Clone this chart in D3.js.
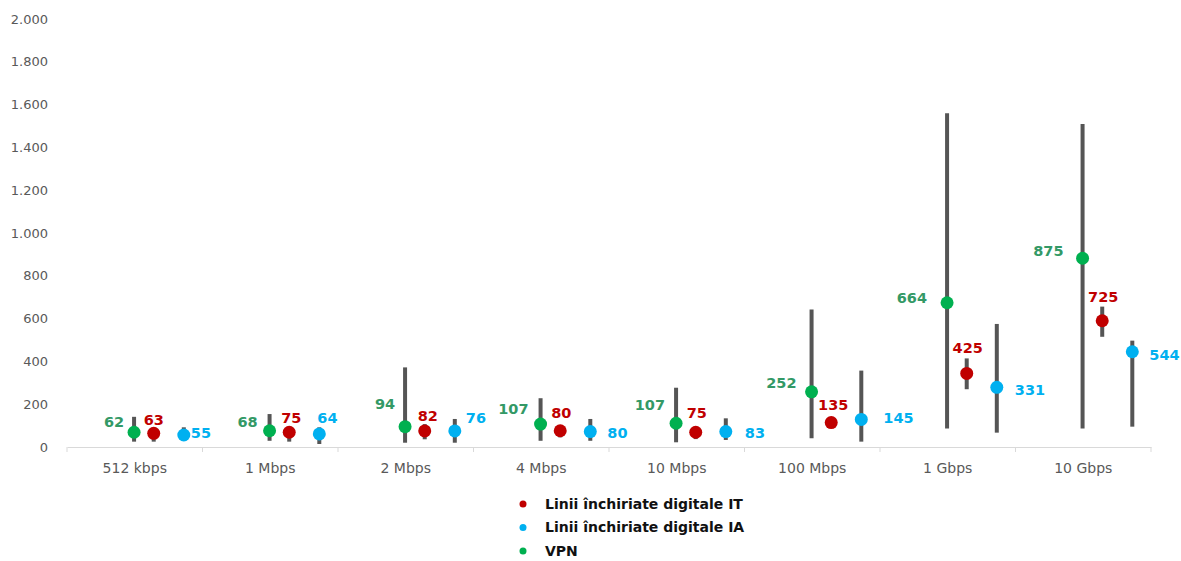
<!DOCTYPE html>
<html>
<head>
<meta charset="utf-8">
<script src="https://cdn.jsdelivr.net/npm/d3@7"></script>
<style>
  body { margin: 0; background: #fff; }
  svg { display: block; }
  .axis text { font-family: "DejaVu Sans", sans-serif; fill: #595959; }
  .val { font-family: "DejaVu Sans", sans-serif; font-weight: bold; font-size: 14.5px; }
  .legend text { font-family: "DejaVu Sans", sans-serif; font-weight: bold; font-size: 14px; fill: #111; }
</style>
</head>
<body>
<svg width="1181" height="561"></svg>
<script>
var categories = ["512 kbps", "1 Mbps", "2 Mbps", "4 Mbps", "10 Mbps", "100 Mbps", "1 Gbps", "10 Gbps"];
var yTicks = [0, 200, 400, 600, 800, 1000, 1200, 1400, 1600, 1800, 2000];

// VPN
var vpnMean  = [69, 76, 95, 107, 111, 258, 674, 882];
var vpnMin   = [25, 29, 20, 29, 22, 41, 87, 87];
var vpnMax   = [141, 154, 372, 228, 277, 643, 1559, 1509];
var vpnLabel = [62, 68, 94, 107, 107, 252, 664, 875];

// Linii inchiriate digitale IT
var itMean  = [64, 69, 75, 76, 69, 114, 344, 590];
var itMin   = [25, 25, 36, 45, 37, 106, 270, 515];
var itMax   = [80, 89, 107, 98, 93, 122, 414, 656];
var itLabel = [63, 75, 82, 80, 75, 135, 425, 725];

// Linii inchiriate digitale IA
var iaMean  = [56, 61, 75, 72, 72, 129, 279, 445];
var iaMin   = [33, 14, 20, 29, 33, 25, 67, 95];
var iaMax   = [92, 92, 131, 131, 134, 357, 575, 497];
var iaLabel = [55, 64, 76, 80, 83, 145, 331, 544];

// label nudges in px relative to the dot (layout only)
var vpnNudge = [[-10,-10],[-12,-9],[-10,-23],[-12,-15],[-11,-18],[-15,-9],[-20,-5],[-19,-7]];
var itNudge  = [[0,-13],[2,-14],[3,-15],[1,-18],[1,-19],[2,-18],[1,-25],[1,-24]];
var iaNudge  = [[7,-2],[-2,-16],[11,-13],[17,1],[19,1],[22,-1],[18,3],[17,3]];

var series = [
  {name: "VPN", mean: vpnMean, min: vpnMin, max: vpnMax, label: vpnLabel, nudge: vpnNudge,
   dot: "#00b050", text: "#339966", anchor: "end", pos: 0.495},
  {name: "Linii închiriate digitale IT", mean: itMean, min: itMin, max: itMax, label: itLabel, nudge: itNudge,
   dot: "#c00000", text: "#c00000", anchor: "middle", pos: 0.64},
  {name: "Linii închiriate digitale IA", mean: iaMean, min: iaMin, max: iaMax, label: iaLabel, nudge: iaNudge,
   dot: "#00b0f0", text: "#00b0f0", anchor: "start", pos: 0.862}
];

var svg = d3.select("svg"),
    margin = {top: 19, right: 30, bottom: 114, left: 67},
    width = 1181 - margin.left - margin.right,
    height = 561 - margin.top - margin.bottom,
    g = svg.append("g").attr("transform", "translate(" + margin.left + "," + margin.top + ")");

var fmt = d3.formatLocale({decimal: ",", thousands: ".", grouping: [3], currency: ["", ""]}).format(",d");

var x = d3.scaleBand().domain(categories).range([0, width]).padding(0);
var y = d3.scaleLinear().domain([0, 2000]).range([height, 0]);

// y axis: labels only
g.append("g")
  .attr("class", "axis")
  .call(d3.axisLeft(y).tickValues(yTicks).tickSize(0).tickPadding(19).tickFormat(fmt))
  .call(function (a) { a.select(".domain").remove(); })
  .selectAll("text").attr("font-size", 13);

// x axis
var xAxis = g.append("g")
  .attr("class", "axis")
  .attr("transform", "translate(0," + height + ")")
  .call(d3.axisBottom(x).tickSize(0).tickPadding(16));
xAxis.select(".domain").attr("stroke", "#d9d9d9");
xAxis.selectAll("text").attr("font-size", 14);
xAxis.selectAll(".sep")
  .data(categories.concat([null]))
  .enter().append("line")
    .attr("class", "sep")
    .attr("x1", function (d) { return d === null ? width : x(d); })
    .attr("x2", function (d) { return d === null ? width : x(d); })
    .attr("y1", 0).attr("y2", 5)
    .attr("stroke", "#d9d9d9");

// range bars
series.forEach(function (s) {
  var cx = function (d, i) { return x(categories[i]) + x.bandwidth() * s.pos; };
  g.append("g").selectAll("line")
    .data(s.mean)
    .enter().append("line")
      .attr("x1", cx).attr("x2", cx)
      .attr("y1", function (d, i) { return y(s.max[i]); })
      .attr("y2", function (d, i) { return y(s.min[i]); })
      .attr("stroke", "#555555")
      .attr("stroke-width", 4);
});

// dots and labels
series.forEach(function (s) {
  var cx = function (d, i) { return x(categories[i]) + x.bandwidth() * s.pos; };
  g.append("g").selectAll("circle")
    .data(s.mean)
    .enter().append("circle")
      .attr("cx", cx)
      .attr("cy", function (d) { return y(d); })
      .attr("r", 6.5)
      .attr("fill", s.dot);
  g.append("g").selectAll("text")
    .data(s.mean)
    .enter().append("text")
      .attr("class", "val")
      .attr("x", function (d, i) { return cx(d, i) + s.nudge[i][0]; })
      .attr("y", function (d, i) { return y(d) + s.nudge[i][1]; })
      .attr("dy", "0.35em")
      .attr("text-anchor", s.anchor)
      .attr("fill", s.text)
      .text(function (d, i) { return s.label[i]; });
});

// legend
var legendOrder = [series[1], series[2], series[0]];
var legend = svg.append("g").attr("class", "legend");
var ly = d3.scalePoint().domain(legendOrder.map(function (s) { return s.name; })).range([504, 551]);
var item = legend.selectAll("g")
  .data(legendOrder)
  .enter().append("g")
    .attr("transform", function (s) { return "translate(523," + ly(s.name) + ")"; });
item.append("circle").attr("r", 3.5).attr("fill", function (s) { return s.dot; });
item.append("text").attr("x", 22).attr("dy", "0.35em").text(function (s) { return s.name; });
</script>
</body>
</html>
